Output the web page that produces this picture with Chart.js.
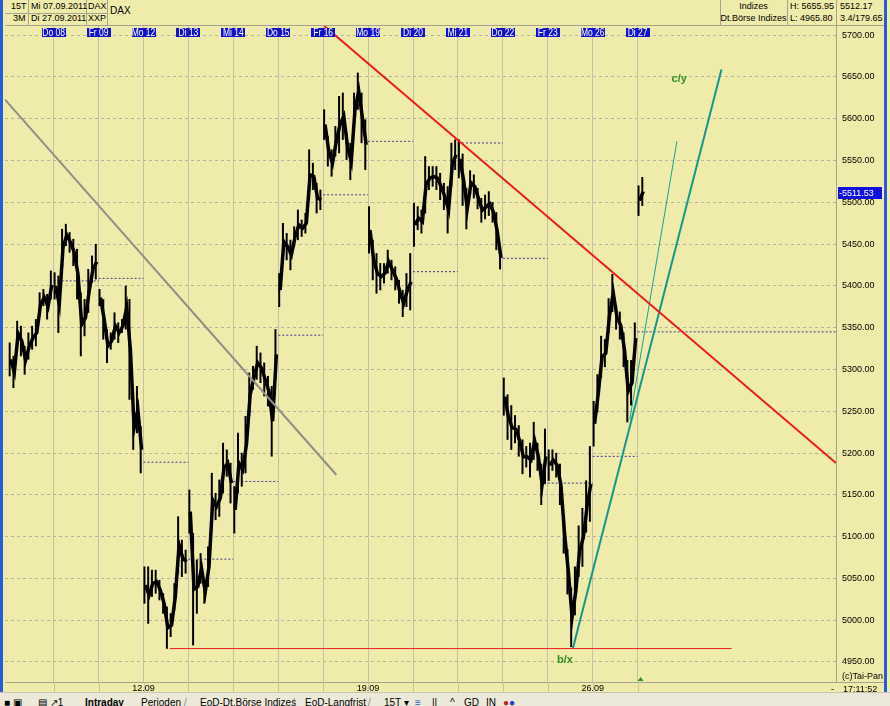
<!DOCTYPE html>
<html>
<head>
<meta charset="utf-8">
<script src="https://cdn.jsdelivr.net/npm/chart.js@4.4.0/dist/chart.umd.min.js"></script>
<style>
body{margin:0;width:890px;height:706px;overflow:hidden;background:#efebaa;position:relative;
 font-family:"Liberation Sans",Arial,sans-serif;font-size:9px;color:#000}
.t{position:absolute;white-space:nowrap;line-height:11px}
.ln{position:absolute;background:#a6a48e}
#wrap{position:absolute;left:5px;top:26px;width:881px;height:666px}
#tabs{position:absolute;left:0;top:692px;width:890px;height:14px;background:#ece9d8;border-top:1px solid #c8c4b0;overflow:hidden}
#tabs span{position:absolute;top:4px;white-space:nowrap;font-size:10px}
</style>
</head>
<body>
<!-- Kopfzeile -->
<div class="ln" style="left:5px;top:25px;width:880px;height:1px"></div>
<div class="ln" style="left:5px;top:13px;width:102px;height:1px"></div>
<div class="ln" style="left:28px;top:0;width:1px;height:25px"></div>
<div class="ln" style="left:86px;top:0;width:1px;height:25px"></div>
<div class="ln" style="left:107px;top:0;width:1px;height:25px"></div>
<div class="ln" style="left:720px;top:0;width:1px;height:25px"></div>
<div class="ln" style="left:787px;top:0;width:1px;height:25px"></div>
<div class="ln" style="left:836px;top:0;width:1px;height:25px"></div>
<div class="t" style="left:11px;top:1px">15T</div>
<div class="t" style="left:13px;top:13px">3M</div>
<div class="t" style="left:31px;top:1px">Mi 07.09.2011</div>
<div class="t" style="left:31px;top:13px">Di 27.09.2011</div>
<div class="t" style="left:88px;top:1px">DAX</div>
<div class="t" style="left:88px;top:13px">XXP</div>
<div class="t" style="left:110px;top:5px;font-size:10px">DAX</div>
<div class="t" style="left:720px;width:67px;text-align:center;top:1px">Indizes</div>
<div class="t" style="left:720px;width:67px;text-align:center;top:13px">Dt.Börse Indizes</div>
<div class="t" style="left:790px;top:1px">H: 5655.95</div>
<div class="t" style="left:790px;top:13px">L: 4965.80</div>
<div class="t" style="left:840px;top:1px">5512.17</div>
<div class="t" style="left:840px;top:13px">3.4/179.65</div>

<div id="wrap"><canvas id="chart" width="881" height="666"></canvas></div>

<div class="ln" style="left:836px;top:682px;width:50px;height:1px"></div>
<div class="t" style="left:842px;top:671px">(c)Tai-Pan</div>
<div class="t" style="left:831px;top:684px">-</div>
<div class="t" style="left:843px;top:684px">17:11:52</div>

<div style="position:absolute;left:0;top:0;width:3px;height:692px;background:#2a5bd6"></div>
<div style="position:absolute;left:884px;top:0;width:3px;height:706px;background:#2a5bd6"></div>

<div id="tabs">
 <span style="left:4px">&#9632; &#9635;</span>
 <span style="left:38px">&#9636; &#8599;1</span>
 <span style="left:85px;font-weight:bold">Intraday</span>
 <span style="left:141px">Perioden</span>
 <span style="left:184px;color:#888">/</span>
 <span style="left:200px">EoD-Dt.Börse Indizes</span>
 <span style="left:292px;color:#888">/</span>
 <span style="left:305px">EoD-Langfrist</span>
 <span style="left:368px;color:#888">/</span>
 <span style="left:384px">15T &#9662;</span>
 <span style="left:415px;color:#2a5bd6">&#8801;</span>
 <span style="left:432px">||</span>
 <span style="left:450px">^</span>
 <span style="left:464px">GD</span>
 <span style="left:486px">IN</span>
 <span style="left:503px;color:#c0202a">&#9679;<span style="position:static;color:#2040c0">&#9679;</span></span>
</div>

<script>
// Tages-Beschriftungen oben und Wochen-Beschriftungen unten
var dayNames = ['Mi 07','Do 08','Fr 09','Mo 12','Di 13','Mi 14','Do 15','Fr 16','Mo 19','Di 20','Mi 21','Do 22','Fr 23','Mo 26','Di 27'];
var weekStarts = [3, 8, 13];
var weekLabels = ['12.09', '19.09', '26.09'];
var yTicks = [4950,5000,5050,5100,5150,5200,5250,5300,5350,5400,5450,5500,5550,5600,5650,5700];
var barsPerDay = 12;
var totalSlots = 222;

// [low, high] je Balken (DAX, 15T verdichtet)
var mi07 = [[5292,5332],[5278,5316],[5328,5358],[5316,5352],[5294,5328],[5312,5344],[5324,5352],[5328,5360],[5364,5392],[5376,5396],[5360,5390],[5384,5418]];
var do08 = [[5384,5416],[5344,5412],[5424,5468],[5448,5474],[5440,5464],[5424,5456],[5384,5444],[5316,5392],[5340,5384],[5368,5420],[5404,5436],[5408,5450]];
var fr09 = [[5376,5396],[5336,5384],[5308,5348],[5324,5344],[5336,5368],[5332,5356],[5344,5360],[5348,5400],[5264,5384],[5204,5256],[5224,5280],[5176,5232]];
var mo12 = [[5020,5064],[4996,5064],[5028,5060],[5032,5060],[5024,5048],[5008,5032],[4966,5016],[4980,5008],[5012,5044],[5056,5124],[5052,5096],[5056,5084]];
var di13 = [[5104,5156],[4970,5104],[5008,5072],[5044,5080],[5020,5048],[5040,5088],[5112,5176],[5120,5152],[5124,5168],[5152,5212],[5172,5204],[5140,5188]];
var mi14 = [[5104,5160],[5152,5224],[5160,5200],[5176,5244],[5244,5296],[5276,5304],[5288,5328],[5284,5320],[5268,5308],[5256,5292],[5196,5280],[5288,5348]];
var do15 = [[5375,5415],[5431,5475],[5431,5463],[5419,5455],[5447,5471],[5455,5491],[5459,5479],[5463,5487],[5503,5563],[5515,5547],[5487,5523],[5491,5515]];
var fr16 = [[5575,5611],[5543,5579],[5531,5563],[5555,5591],[5559,5627],[5575,5631],[5551,5583],[5527,5571],[5591,5631],[5611,5655],[5571,5631],[5539,5599]];
var mo19 = [[5439,5495],[5407,5455],[5391,5439],[5395,5427],[5403,5427],[5415,5443],[5407,5431],[5395,5423],[5379,5407],[5363,5395],[5375,5415],[5371,5439]];
var di20 = [[5447,5499],[5467,5495],[5463,5491],[5487,5555],[5515,5543],[5519,5543],[5515,5543],[5503,5535],[5491,5523],[5463,5519],[5519,5571],[5539,5575]];
var mi21 = [[5529,5575],[5496,5558],[5468,5517],[5509,5538],[5505,5533],[5492,5517],[5476,5505],[5480,5509],[5484,5513],[5476,5500],[5443,5488],[5420,5447]];
var do22 = [[5245,5290],[5216,5270],[5204,5257],[5212,5245],[5196,5233],[5175,5216],[5183,5208],[5171,5212],[5192,5237],[5179,5212],[5138,5187],[5163,5229]];
var fr23 = [[5167,5204],[5179,5204],[5171,5200],[5138,5187],[5080,5126],[5031,5085],[4968,5039],[5006,5064],[5052,5113],[5064,5134],[5105,5167],[5118,5208]];
var mo26 = [[5208,5262],[5249,5294],[5290,5340],[5303,5336],[5344,5385],[5369,5414],[5348,5377],[5336,5369],[5303,5344],[5237,5311],[5257,5311],[5319,5356]];
var di27 = [[5484,5520],[5496,5530]];
var days = [mi07, do08, fr09, mo12, di13, mi14, do15, fr16, mo19, di20, mi21, do22, fr23, mo26, di27];

// Schlusskurs Vortag (gepunktete Linie je Tag)
var prevClose = [null,5406,5409,5189,5073,5166,5341,5509,5573,5417,5571,5433,5164,5196,5345];
var lastPrice = 5511.53;

// Trendlinien [slot, kurs]
var grayLine = [[-0.5,5623],[88,5174]];
var redLine = [[84.8,5711],[221.5,5188]];
var supportLine = [[43.5,4966],[193.6,4966]];
var fanThick = [[151.2,4966],[190.9,5659]];
var fanThin = [[166.4,5240],[179,5573]];
var waveLabels = [['c/y',179.6,5648],['b/x',149.1,4952]];

function dayStart(d){ return 0.5 + d*barsPerDay; }
function toPts(arr){ var r=[]; for(var i=0;i<arr.length;i++){ r.push({x:arr[i][0], y:arr[i][1]}); } return r; }

var labels = new Array();
var barData = new Array();
var midData = new Array();
var slotDay = new Array();
for(var i = 0; i < totalSlots; i++){ labels[i] = ''+i; barData[i] = null; midData[i] = null; slotDay[i] = -1; }
for(var d = 0; d < days.length; d++){
	for(var k = 0; k < days[d].length; k++){
		var idx = 1 + d*barsPerDay + k;
		barData[idx] = days[d][k];
		midData[idx] = (days[d][k][0] + days[d][k][1]) / 2;
		slotDay[idx] = d;
	}
}

var closePts = new Array();
for(var d = 1; d < prevClose.length; d++){
	var s = dayStart(d);
	var e = (d == prevClose.length-1) ? totalSlots - 0.5 : dayStart(d+1);
	closePts.push({x:s, y:prevClose[d]});
	closePts.push({x:e, y:prevClose[d]});
	closePts.push({x:e+0.01, y:null});
}

var dayBounds = new Array();
for(var d = 1; d < dayNames.length; d++){ dayBounds.push(dayStart(d)); }

var overlay = {
	id: 'overlay',
	afterDraw: function(c){
		var ctx = c.ctx, xl = c.scales.xl, y = c.scales.y, area = c.chartArea;
		ctx.save();
		// Verlaengerung der Tageslinien in die Datumszeile unten
		ctx.strokeStyle = '#c4c2a2'; ctx.lineWidth = 1;
		for(var i = 0; i < dayBounds.length; i++){
			var gx = Math.round(xl.getPixelForValue(dayBounds[i])) + 0.5;
			ctx.beginPath(); ctx.moveTo(gx, area.bottom); ctx.lineTo(gx, area.bottom + 10); ctx.stroke();
		}
		// Datumsfelder oben
		ctx.font = '10px "Liberation Sans",Arial,sans-serif';
		ctx.textAlign = 'center'; ctx.textBaseline = 'middle';
		for(var d = 1; d < dayNames.length; d++){
			var px = xl.getPixelForValue(dayStart(d));
			var w = 24;
			ctx.fillStyle = '#1212cc';
			ctx.fillRect(Math.round(px - w/2), 2, w, 9);
			ctx.fillStyle = '#ffffff';
			ctx.save();
			ctx.translate(px, 7);
			ctx.scale(0.85, 1);
			ctx.fillText(dayNames[d], 0, 0);
			ctx.restore();
		}
		// Wellen-Beschriftung
		ctx.font = 'bold 11px "Liberation Sans",Arial,sans-serif';
		ctx.fillStyle = '#2f8f1f';
		for(var i = 0; i < waveLabels.length; i++){
			ctx.fillText(waveLabels[i][0], xl.getPixelForValue(waveLabels[i][1]), y.getPixelForValue(waveLabels[i][2]));
		}
		// kleines Dreieck
		var tx = xl.getPixelForValue(dayStart(14)) + 3;
		ctx.beginPath();
		ctx.moveTo(tx-3, area.bottom-1); ctx.lineTo(tx+3, area.bottom-1); ctx.lineTo(tx, area.bottom-5); ctx.closePath();
		ctx.fill();
		// letzter Kurs
		var ly = Math.round(y.getPixelForValue(lastPrice));
		ctx.fillStyle = '#1010e0';
		ctx.fillRect(area.right+2, ly-6, 44, 12);
		ctx.fillStyle = '#ffffff';
		ctx.textAlign = 'left';
		ctx.font = '9px "Liberation Sans",Arial,sans-serif';
		ctx.fillText('-' + lastPrice.toFixed(2), area.right+3, ly+1);
		ctx.restore();
	}
};

Chart.defaults.font.family = '"Liberation Sans",Arial,sans-serif';
Chart.defaults.font.size = 9;
Chart.defaults.color = '#000';

var ctx = document.getElementById('chart').getContext('2d');
var chart = new Chart(ctx, {
	type: 'bar',
	data: {
		labels: labels,
		datasets: [
			{type:'bar', data:barData, backgroundColor:'#000000', borderWidth:0, inflateAmount:0.2, barPercentage:0.85, categoryPercentage:1, xAxisID:'x', yAxisID:'y', order:2},
			{type:'line', data:midData, borderColor:'#000000', borderWidth:3.5, pointRadius:0, tension:0, spanGaps:false, xAxisID:'x', yAxisID:'y', order:2,
				segment: {borderColor: function(sc){ return slotDay[sc.p0DataIndex] == slotDay[sc.p1DataIndex] ? '#000000' : 'rgba(0,0,0,0)'; }}},
			{type:'line', data:closePts, borderColor:'#3c3c96', borderWidth:1, borderDash:[2,2], pointRadius:0, spanGaps:false, xAxisID:'xl', yAxisID:'y', order:3},
			{type:'line', data:toPts(grayLine), borderColor:'#8e8e86', borderWidth:2, pointRadius:0, xAxisID:'xl', yAxisID:'y', order:1},
			{type:'line', data:toPts(redLine), borderColor:'#ec1c1c', borderWidth:2, pointRadius:0, xAxisID:'xl', yAxisID:'y', order:1},
			{type:'line', data:toPts(supportLine), borderColor:'#ec1c1c', borderWidth:1, pointRadius:0, xAxisID:'xl', yAxisID:'y', order:1},
			{type:'line', data:toPts(fanThick), borderColor:'#12998c', borderWidth:2, pointRadius:0, xAxisID:'xl', yAxisID:'y', order:1},
			{type:'line', data:toPts(fanThin), borderColor:'#18a090', borderWidth:1, pointRadius:0, xAxisID:'xl', yAxisID:'y', order:1}
		]
	},
	options: {
		responsive: false,
		animation: false,
		layout: {padding: 0},
		plugins: {legend:{display:false}, tooltip:{enabled:false}},
		scales: {
			x: {type:'category', display:false, offset:true},
			xl: {
				type:'linear', position:'bottom', min:-0.5, max:totalSlots-0.5, offset:false,
				afterBuildTicks: function(s){ s.ticks = dayBounds.map(function(v){ return {value:v}; }); },
				afterFit: function(s){ s.height = 10; s.paddingLeft = 0; s.paddingRight = 0; },
				grid: {color:'#c4c2a2', drawTicks:false, offset:false},
				border: {color:'#a6a48e'},
				ticks: {autoSkip:false, maxRotation:0, padding:1, font:{size:9},
					callback: function(v){ var d = Math.round((v-0.5)/barsPerDay); var k = weekStarts.indexOf(d); return k >= 0 ? weekLabels[k] : ''; }}
			},
			y: {
				type:'linear', position:'right', min:4926, max:5711,
				afterBuildTicks: function(s){ s.ticks = yTicks.map(function(v){ return {value:v}; }); },
				afterFit: function(s){ s.width = 50; s.paddingTop = 0; s.paddingBottom = 0; },
				grid: {color:'#b6b49c', drawTicks:false},
				border: {display:true, color:'#a6a48e', dash:[3,3]},
				ticks: {padding:6, font:{size:9}, callback: function(v){ return v.toFixed(2); }}
			}
		}
	},
	plugins: [overlay]
});
</script>
</body>
</html>
